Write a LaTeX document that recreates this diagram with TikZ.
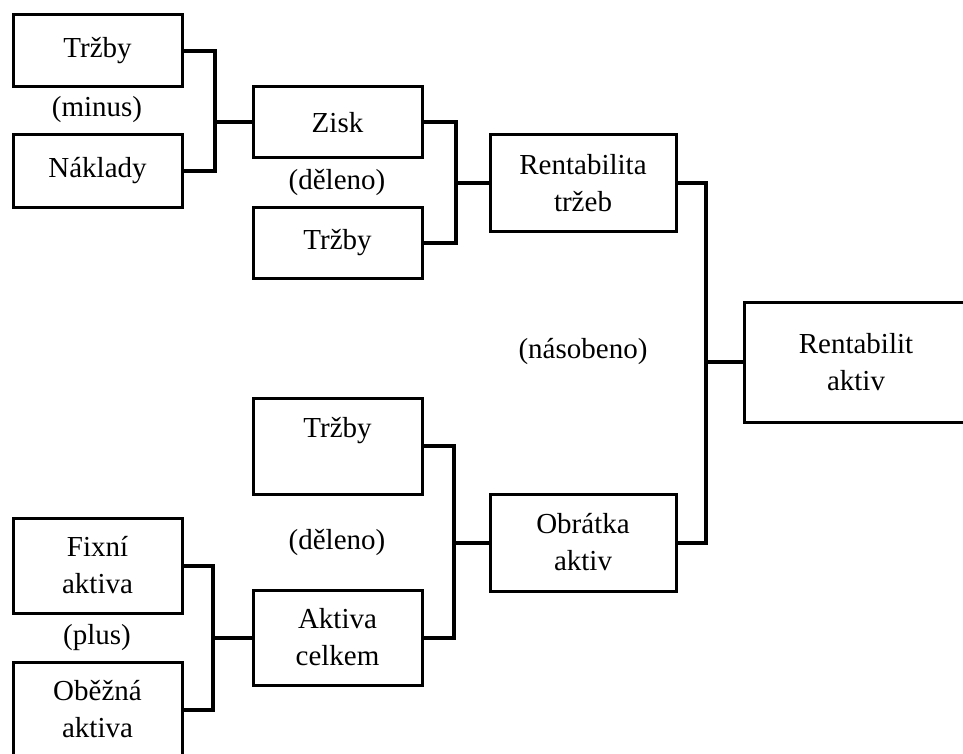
\documentclass[tikz,border=0pt]{standalone}
\usepackage{fontspec}
\setmainfont{Liberation Serif}
\usetikzlibrary{positioning}

\begin{document}
\begin{tikzpicture}[
    x=1pt, y=-1pt,
    font=\fontsize{29}{37}\selectfont,
    box/.style={rectangle, draw, line width=3pt, minimum width=169pt, minimum height=72pt, align=center, inner sep=0pt},
    widebox/.style={box, minimum width=186pt, minimum height=96pt},
    tallbox/.style={box, minimum height=95pt},
    op/.style={inner sep=0pt},
    conn/.style={line width=4pt, line join=miter}
]
\useasboundingbox (0,0) rectangle (963,754);

% Rentabilita trzeb - upper branch
\node[box] (trzbyA) at (97.5,51) {Tržby};
\node[box] (naklady) at (97.5,171) {Náklady};
\node[op] (minus) at (97,110) {(minus)};

\node[box, minimum height=71pt] (zisk) at (337.5,122.5) {Zisk};
\node[box, minimum height=71pt] (trzbyB) at (337.5,242.5) {Tržby};
\node[op] (deleno1) at (337,182) {(děleno)};

\node[widebox] (rentT) at (583,183) {Rentabilita\\tržeb};

% Rentabilita aktiv - result
\node[box, minimum width=224pt, minimum height=120pt] (rentA) at (856,362) {Rentabilit\\aktiv};
\node[op] (nasobeno) at (583,352) {(násobeno)};

% Obratka aktiv - lower branch
\node[box, minimum height=96pt] (trzbyC) at (337.5,446) {Tržby\\~};
\node[op] (deleno2) at (337,542) {(děleno)};
\node[tallbox] (aktivaC) at (337.5,637.5) {Aktiva\\celkem};

\node[tallbox] (fixni) at (97.5,565.5) {Fixní\\aktiva};
\node[op] (plus) at (97,638) {(plus)};
\node[tallbox] (obezna) at (97.5,709.5) {Oběžná\\aktiva};

\node[widebox, minimum height=97pt] (obratka) at (583,542.5) {Obrátka\\aktiv};

% Connectors
\coordinate (j1) at (215,122.5);
\coordinate (j2) at (456,183);
\coordinate (j3) at (706,362);
\coordinate (j4) at (454,542.5);
\coordinate (j5) at (213,637.5);

\draw[conn] (trzbyA.east) -| (j1) |- (naklady.east);
\draw[conn] (j1) -- (zisk.west);
\draw[conn] (zisk.east) -| (j2) |- (trzbyB.east);
\draw[conn] (j2) -- (rentT.west);
\draw[conn] (rentT.east) -| (j3) |- (obratka.east);
\draw[conn] (j3) -- (rentA.west);
\draw[conn] (trzbyC.east) -| (j4) |- (aktivaC.east);
\draw[conn] (j4) -- (obratka.west);
\draw[conn] (fixni.east) -| (j5) |- (obezna.east);
\draw[conn] (j5) -- (aktivaC.west);

\end{tikzpicture}
\end{document}
